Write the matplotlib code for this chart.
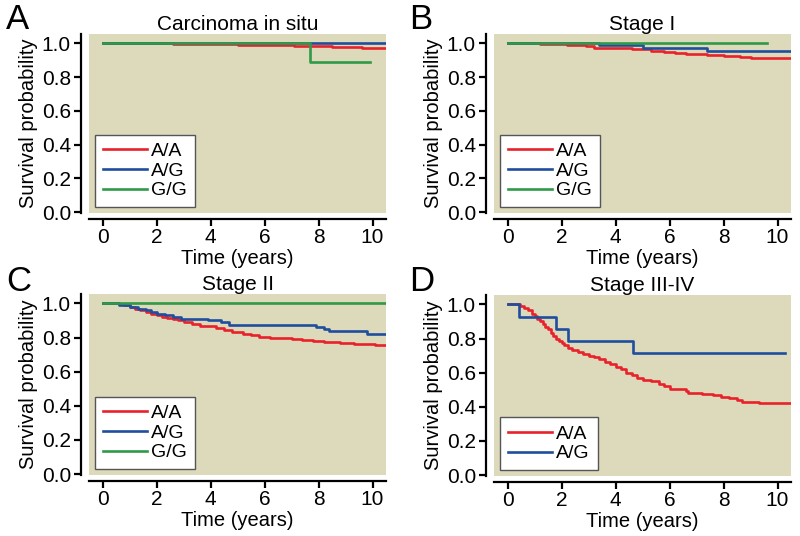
import numpy as np
import matplotlib
matplotlib.use("Agg")
import matplotlib.pyplot as plt

plt.rcParams['font.family'] = ['Liberation Sans', 'DejaVu Sans']

RED = '#e8212b'
BLUE = '#1f4e9e'
GREEN = '#2f9a48'
BG = '#dcdabb'

# Panel A - Carcinoma in situ
a_aa_t = [0, 2.6, 3.8, 5.0, 7.1, 8.5, 9.6, 10.5]
a_aa_s = [1.0, 0.998, 0.995, 0.99, 0.985, 0.98, 0.97, 0.97]
a_ag_t = [0, 10.5]
a_ag_s = [1.0, 1.0]
a_gg_t = [0, 7.7, 9.9]
a_gg_s = [1.0, 0.889, 0.889]

# Panel B - Stage I
b_aa_t = [0, 1.2, 2.2, 2.9, 3.2, 4.0, 4.6, 5.3, 5.8, 6.2, 6.6, 7.4, 8.0, 8.6, 9.0, 10.2, 10.5]
b_aa_s = [1.0, 0.995, 0.99, 0.985, 0.975, 0.97, 0.965, 0.955, 0.95, 0.945, 0.935, 0.93, 0.925, 0.92, 0.915, 0.91, 0.91]
b_ag_t = [0, 3.4, 5.0, 7.4, 10.5]
b_ag_s = [1.0, 0.99, 0.97, 0.955, 0.955]
b_gg_t = [0, 9.6]
b_gg_s = [1.0, 1.0]

# Panel C - Stage II
c_aa_t = [0, 0.6, 0.8, 1.0, 1.2, 1.4, 1.6, 1.8, 2.0, 2.2, 2.4, 2.6, 2.8, 3.0, 3.3, 3.6, 3.9,
          4.2, 4.5, 4.8, 5.0, 5.2, 5.5, 5.8, 6.2, 6.6, 7.0, 7.4, 7.8, 8.2, 8.8, 9.3, 9.7, 10.1, 10.5]
c_aa_s = [1.0, 0.995, 0.99, 0.98, 0.97, 0.96, 0.95, 0.94, 0.93, 0.92, 0.915, 0.91, 0.90, 0.89, 0.88, 0.87, 0.865,
          0.855, 0.845, 0.835, 0.83, 0.82, 0.815, 0.805, 0.80, 0.795, 0.79, 0.785, 0.78, 0.775, 0.77, 0.765, 0.76, 0.755, 0.755]
c_ag_t = [0, 0.6, 1.0, 1.3, 1.6, 1.8, 2.0, 2.3, 2.6, 2.9, 3.9, 4.4, 4.7, 7.9, 8.2, 8.4, 9.8, 10.5]
c_ag_s = [1.0, 0.99, 0.98, 0.97, 0.96, 0.95, 0.94, 0.93, 0.92, 0.91, 0.90, 0.89, 0.875, 0.86, 0.85, 0.84, 0.82, 0.82]
c_gg_t = [0, 10.5]
c_gg_s = [1.0, 1.0]

# Panel D - Stage III-IV
d_aa_t = [0, 0.45, 0.6, 0.75, 0.9, 1.0, 1.1, 1.2, 1.3, 1.4, 1.5, 1.6, 1.7, 1.8, 1.9, 2.0, 2.1, 2.25,
          2.4, 2.6, 2.8, 3.0, 3.2, 3.4, 3.6, 3.8, 4.0, 4.2, 4.4, 4.6, 4.8, 5.0, 5.3, 5.6, 5.8, 6.0,
          6.6, 6.7, 7.2, 7.6, 7.9, 8.2, 8.5, 8.7, 9.3, 9.4, 10.5]
d_aa_s = [1.0, 0.99, 0.98, 0.965, 0.945, 0.93, 0.915, 0.90, 0.885, 0.87, 0.855, 0.835, 0.815, 0.80, 0.785, 0.775, 0.765, 0.745,
          0.73, 0.72, 0.71, 0.70, 0.69, 0.68, 0.665, 0.65, 0.635, 0.62, 0.60, 0.585, 0.57, 0.56, 0.55, 0.535, 0.52, 0.505,
          0.495, 0.48, 0.475, 0.47, 0.46, 0.45, 0.44, 0.43, 0.425, 0.42, 0.42]
d_ag_t = [0, 0.43, 1.79, 2.24, 4.65, 10.27]
d_ag_s = [1.0, 0.929, 0.857, 0.786, 0.714, 0.714]

titles = ['Carcinoma in situ', 'Stage I', 'Stage II', 'Stage III-IV']
letters = ['A', 'B', 'C', 'D']
genotypes = ['A/A', 'A/G', 'G/G']
colors = [RED, BLUE, GREEN]

panels = [
    [(a_aa_t, a_aa_s), (a_ag_t, a_ag_s), (a_gg_t, a_gg_s)],
    [(b_aa_t, b_aa_s), (b_ag_t, b_ag_s), (b_gg_t, b_gg_s)],
    [(c_aa_t, c_aa_s), (c_ag_t, c_ag_s), (c_gg_t, c_gg_s)],
    [(d_aa_t, d_aa_s), (d_ag_t, d_ag_s)],
]

W, H = 800, 536
# axes boxes in pixels: left, top, right, bottom
boxes = [(89, 34, 386, 213), (494, 34, 791, 213), (89, 294, 386, 475), (494, 295, 791, 476)]
letter_pos = [(6, 3), (409, 3), (6, 265), (409, 265)]

fig = plt.figure(figsize=(W / 100, H / 100), dpi=100)

for i, curves in enumerate(panels):
    l, t, r, b = boxes[i]
    ax = fig.add_axes([l / W, 1 - b / H, (r - l) / W, (b - t) / H])
    ax.set_facecolor(BG)
    for j, (tt, ss) in enumerate(curves):
        ax.plot(tt, ss, drawstyle='steps-post', color=colors[j], lw=1.9, label=genotypes[j])

    ax.set_xlim(-0.5, 10.5)
    ax.set_ylim(-0.005, 1.055)
    ax.set_xticks(np.arange(0, 11, 2))
    ax.set_yticks(np.arange(0, 1.01, 0.2))
    ax.set_yticklabels([f'{v:.1f}' for v in np.arange(0, 1.01, 0.2)])

    for s in ['top', 'right']:
        ax.spines[s].set_visible(False)
    ax.spines['left'].set_position(('outward', 6))
    ax.spines['bottom'].set_position(('outward', 4))
    ax.spines['left'].set_linewidth(1.6)
    ax.spines['bottom'].set_linewidth(1.6)
    ax.tick_params(direction='out', length=5, width=1.6, labelsize=15, pad=2)

    ax.set_xlabel('Time (years)', fontsize=14.5, labelpad=1)
    ax.set_ylabel('Survival probability', fontsize=14.5, labelpad=3)
    ax.set_title(titles[i], fontsize=15, pad=3)

    leg = ax.legend(loc='lower left', fontsize=14, frameon=True, fancybox=False, framealpha=1,
                    handlelength=2.3, handletextpad=0.2, labelspacing=0.1,
                    borderpad=0.4, borderaxespad=0.3)
    leg.get_frame().set_edgecolor('#555555')
    leg.get_frame().set_facecolor('white')
    leg.get_frame().set_linewidth(1.0)

    lx, ly = letter_pos[i]
    fig.text(lx / W, 1 - ly / H, letters[i], fontsize=25, ha='left', va='top')

fig.savefig('out.png', dpi=100)
